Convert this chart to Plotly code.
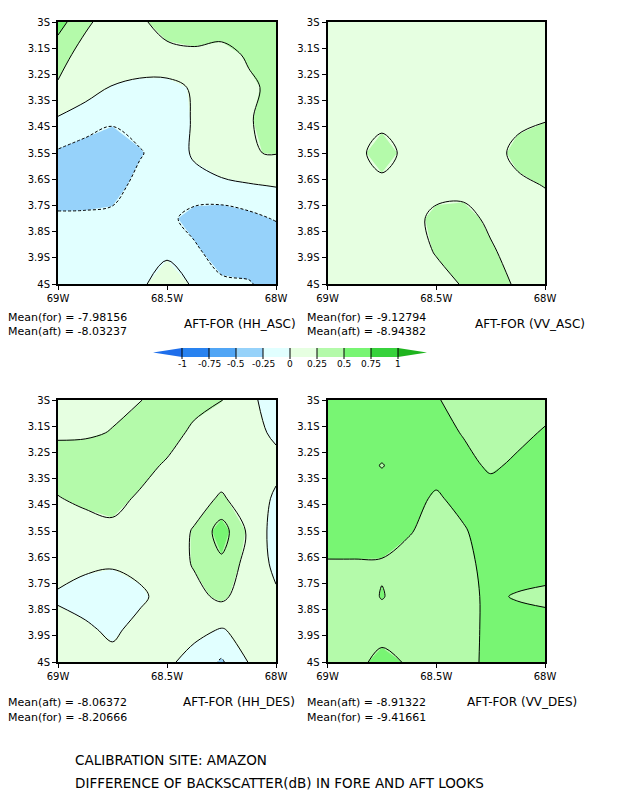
import plotly.graph_objects as go

# ---------------- data ----------------
lon = [-69.0, -68.875, -68.75, -68.625, -68.5, -68.375, -68.25, -68.125, -68.0]
lat = [-3.0, -3.125, -3.25, -3.375, -3.5, -3.625, -3.75, -3.875, -4.0]   # rows top -> bottom

hh_asc = [
    [0.60, 0.30, 0.12, 0.22, 0.32, 0.40, 0.45, 0.45, 0.45],
    [0.35, 0.15, 0.10, 0.15, 0.20, 0.20, 0.12, 0.30, 0.40],
    [0.22, 0.08, -0.01, -0.06, -0.08, 0.03, 0.12, 0.18, 0.35],
    [-0.03, -0.10, -0.22, -0.15, -0.12, 0.02, 0.12, 0.23, 0.35],
    [-0.28, -0.38, -0.38, -0.27, -0.14, 0.03, 0.12, 0.24, 0.26],
    [-0.35, -0.40, -0.33, -0.18, -0.12, -0.08, -0.04, -0.02, 0.01],
    [-0.22, -0.20, -0.20, -0.15, -0.18, -0.35, -0.40, -0.32, -0.23],
    [-0.15, -0.15, -0.12, -0.08, -0.03, -0.20, -0.38, -0.45, -0.45],
    [-0.15, -0.12, -0.08, -0.03, 0.08, -0.02, -0.20, -0.22, -0.40],
]
vv_asc = [
    [0.12, 0.10, 0.10, 0.12, 0.14, 0.15, 0.15, 0.14, 0.12],
    [0.10, 0.10, 0.12, 0.12, 0.13, 0.14, 0.15, 0.15, 0.14],
    [0.10, 0.12, 0.13, 0.12, 0.12, 0.13, 0.15, 0.16, 0.17],
    [0.10, 0.12, 0.14, 0.12, 0.12, 0.12, 0.14, 0.18, 0.24],
    [0.10, 0.12, 0.42, 0.12, 0.10, 0.12, 0.12, 0.34, 0.40],
    [0.10, 0.12, 0.14, 0.12, 0.15, 0.17, 0.15, 0.18, 0.26],
    [0.08, 0.10, 0.12, 0.15, 0.32, 0.33, 0.20, 0.15, 0.12],
    [0.06, 0.08, 0.10, 0.12, 0.27, 0.38, 0.28, 0.15, 0.10],
    [0.05, 0.08, 0.10, 0.12, 0.15, 0.27, 0.40, 0.20, 0.10],
]
hh_des = [
    [0.15, 0.18, 0.20, 0.24, 0.35, 0.33, 0.26, 0.05, -0.10],
    [0.22, 0.22, 0.26, 0.35, 0.35, 0.20, 0.12, 0.06, -0.03],
    [0.35, 0.38, 0.38, 0.33, 0.22, 0.12, 0.12, 0.08, 0.05],
    [0.24, 0.30, 0.32, 0.22, 0.15, 0.15, 0.28, 0.12, -0.03],
    [0.12, 0.15, 0.20, 0.15, 0.12, 0.27, 0.62, 0.20, -0.10],
    [0.10, 0.05, 0.03, 0.08, 0.12, 0.27, 0.45, 0.15, -0.05],
    [-0.03, -0.10, -0.15, -0.05, 0.10, 0.18, 0.30, 0.12, 0.03],
    [0.08, 0.04, -0.05, 0.08, 0.10, 0.06, -0.01, 0.06, 0.10],
    [0.10, 0.10, 0.08, 0.10, 0.04, -0.08, -0.28, 0.01, 0.10],
]
vv_des = [
    [0.62, 0.62, 0.62, 0.62, 0.52, 0.40, 0.35, 0.35, 0.38],
    [0.62, 0.62, 0.62, 0.62, 0.62, 0.48, 0.40, 0.42, 0.53],
    [0.62, 0.60, 0.49, 0.60, 0.62, 0.60, 0.45, 0.56, 0.60],
    [0.62, 0.62, 0.62, 0.60, 0.46, 0.60, 0.65, 0.65, 0.65],
    [0.62, 0.62, 0.60, 0.52, 0.40, 0.47, 0.65, 0.65, 0.65],
    [0.48, 0.48, 0.48, 0.40, 0.38, 0.40, 0.62, 0.62, 0.62],
    [0.42, 0.40, 0.51, 0.42, 0.40, 0.44, 0.54, 0.48, 0.44],
    [0.40, 0.40, 0.40, 0.40, 0.40, 0.44, 0.54, 0.62, 0.62],
    [0.40, 0.42, 0.58, 0.47, 0.40, 0.42, 0.56, 0.62, 0.62],
]

levels = [-1, -0.75, -0.5, -0.25, 0, 0.25, 0.5, 0.75, 1]
level_labels = ["-1", "-0.75", "-0.5", "-0.25", "0", "0.25", "0.5", "0.75", "1"]
band_colors = ["#1e6eeb", "#2882f0", "#50a5f5", "#96d2fa", "#e1ffff",
               "#e6ffe1", "#b4faaa", "#78f573", "#37d23c", "#1eb41e"]

lat_ticks = [-3.0, -3.1, -3.2, -3.3, -3.4, -3.5, -3.6, -3.7, -3.8, -3.9, -4.0]
lat_labels = ["3S", "3.1S", "3.2S", "3.3S", "3.4S", "3.5S", "3.6S", "3.7S", "3.8S", "3.9S", "4S"]
lon_ticks = [-69.0, -68.5, -68.0]
lon_labels = ["69W", "68.5W", "68W"]

panel_names = ["HH_ASC", "VV_ASC", "HH_DES", "VV_DES"]
mean_texts = [
    ["Mean(for) = -7.98156", "Mean(aft) = -8.03237"],
    ["Mean(for) = -9.12794", "Mean(aft) = -8.94382"],
    ["Mean(aft) = -8.06372", "Mean(for) = -8.20666"],
    ["Mean(aft) = -8.91322", "Mean(for) = -9.41661"],
]
footer = ["CALIBRATION SITE: AMAZON", "DIFFERENCE OF BACKSCATTER(dB) IN FORE AND AFT LOOKS"]

# ---------------- layout helpers ----------------
PAGE_OFF = 8                     # default page body margin
W, H = 618 - 2 * PAGE_OFF, 800 - 2 * PAGE_OFF
FONT = "DejaVu Sans"


def px(x):
    return (x - PAGE_OFF) / W


def py(y):
    return 1 - (y - PAGE_OFF) / H


# panel boxes in window pixels: (x0, x1, ytop, ybottom)
boxes = [(58, 276, 22, 284), (327.5, 545, 22, 284),
         (58, 276, 400, 662), (327.5, 545, 400, 662)]
grids = [hh_asc, vv_asc, hh_des, vv_des]

fig = go.Figure()
cscale = [[k / (len(band_colors) - 1), c] for k, c in enumerate(band_colors)]
lat_up = lat[::-1]

for i, (g, box) in enumerate(zip(grids, boxes)):
    xa = "x" if i == 0 else f"x{i+1}"
    ya = "y" if i == 0 else f"y{i+1}"
    z = g[::-1]
    fig.add_trace(go.Contour(
        x=lon, y=lat_up, z=z, xaxis=xa, yaxis=ya,
        autocontour=False,
        contours=dict(start=levels[0], end=levels[-1], size=0.25,
                      coloring="fill", showlines=False),
        colorscale=cscale, showscale=False,
        line=dict(width=0, smoothing=0), hoverinfo="skip"))
    fig.add_trace(go.Contour(
        x=lon, y=lat_up, z=z, xaxis=xa, yaxis=ya,
        autocontour=False,
        contours=dict(start=-1, end=-0.25, size=0.25, coloring="none"),
        line=dict(color="black", width=1, dash="3px,2px", smoothing=1),
        showscale=False, hoverinfo="skip"))
    fig.add_trace(go.Contour(
        x=lon, y=lat_up, z=z, xaxis=xa, yaxis=ya,
        autocontour=False,
        contours=dict(start=0, end=1, size=0.25, coloring="none"),
        line=dict(color="black", width=1, smoothing=1),
        showscale=False, hoverinfo="skip"))

    x0, x1, yt, yb = box
    axis_common = dict(showgrid=False, zeroline=False, showline=True, mirror=True,
                       linecolor="black", linewidth=2, ticks="outside", ticklen=4,
                       tickcolor="black", tickwidth=1, automargin=False,
                       tickfont=dict(family=FONT, size=10, color="black"))
    xname = "xaxis" if i == 0 else f"xaxis{i+1}"
    yname = "yaxis" if i == 0 else f"yaxis{i+1}"
    fig.update_layout({
        xname: dict(domain=[px(x0), px(x1)], range=[-69, -68], anchor=ya,
                    tickvals=lon_ticks, ticktext=lon_labels, **axis_common),
        yname: dict(domain=[py(yb), py(yt)], range=[-4, -3], anchor=xa,
                    tickvals=lat_ticks, ticktext=lat_labels, **axis_common),
    })

annotations = []


def txt(x, y, s, size=11, anchor="left"):
    annotations.append(dict(x=px(x), y=py(y), xref="paper", yref="paper", text=s,
                            showarrow=False, xanchor=anchor, yanchor="middle",
                            font=dict(family=FONT, size=size, color="black")))


# panel annotations
txt(6, 317, mean_texts[0][0]); txt(6, 331, mean_texts[0][1])
txt(182, 324, f"AFT-FOR ({panel_names[0]})", size=12)
txt(305, 317, mean_texts[1][0]); txt(305, 331, mean_texts[1][1])
txt(473, 324, f"AFT-FOR ({panel_names[1]})", size=12)
txt(6, 702, mean_texts[2][0]); txt(6, 717, mean_texts[2][1])
txt(181, 702, f"AFT-FOR ({panel_names[2]})", size=12)
txt(305, 702, mean_texts[3][0]); txt(305, 717, mean_texts[3][1])
txt(465, 702, f"AFT-FOR ({panel_names[3]})", size=12)
txt(73, 760, footer[0], size=13.5)
txt(73, 783, footer[1], size=13.5)

# colour key (legend) built from the level list
shapes = []
bx0, bx1, by0, by1 = 182, 398, 348, 357
bw = (bx1 - bx0) / (len(levels) - 1)
ymid = (by0 + by1) / 2
for k in range(len(levels) - 1):
    shapes.append(dict(type="rect", xref="paper", yref="paper",
                       x0=px(bx0 + k * bw), x1=px(bx0 + (k + 1) * bw),
                       y0=py(by1), y1=py(by0), fillcolor=band_colors[k + 1],
                       line=dict(width=0)))
shapes.append(dict(type="path", xref="paper", yref="paper",
                   path=f"M {px(bx0)},{py(by0)} L {px(153)},{py(ymid)} L {px(bx0)},{py(by1)} Z",
                   fillcolor=band_colors[0], line=dict(width=0)))
shapes.append(dict(type="path", xref="paper", yref="paper",
                   path=f"M {px(bx1)},{py(by0)} L {px(427)},{py(ymid)} L {px(bx1)},{py(by1)} Z",
                   fillcolor=band_colors[-1], line=dict(width=0)))
for k, lab in enumerate(level_labels):
    xx = bx0 + k * bw
    shapes.append(dict(type="line", xref="paper", yref="paper",
                       x0=px(xx), x1=px(xx), y0=py(by1 + 2), y1=py(by0),
                       line=dict(color="black", width=1)))
    annotations.append(dict(x=px(xx), y=py(364), xref="paper", yref="paper", text=lab,
                            showarrow=False, xanchor="center", yanchor="middle",
                            font=dict(family=FONT, size=9, color="black")))

fig.update_layout(width=W, height=H,
                  margin=dict(l=0, r=0, t=0, b=0, pad=0, autoexpand=False),
                  paper_bgcolor="white", plot_bgcolor="white",
                  showlegend=False, annotations=annotations, shapes=shapes)

fig.write_html("out.html")
